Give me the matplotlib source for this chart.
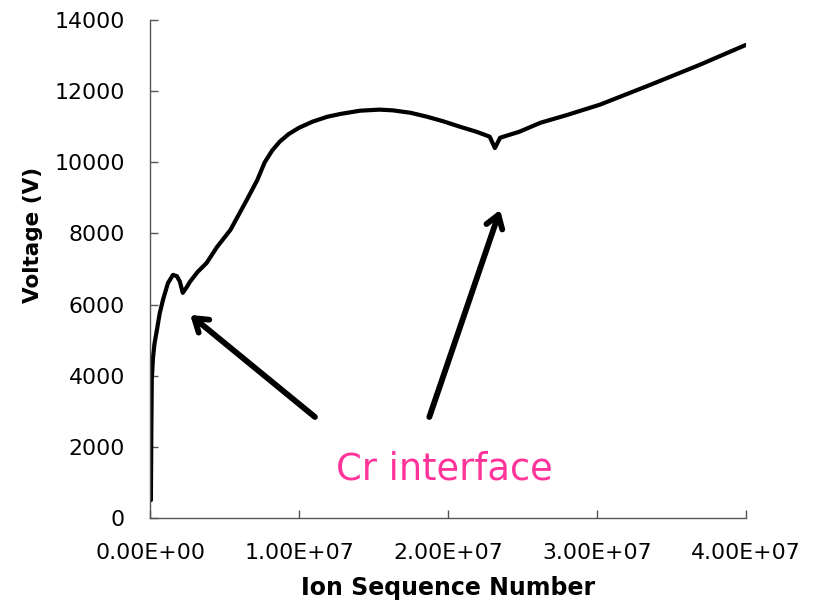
import matplotlib
matplotlib.use("Agg")
import matplotlib.pyplot as plt
from matplotlib.ticker import FuncFormatter

# Values (x in millions of ions)
ion_millions = [0.06, 0.09, 0.12, 0.2, 0.3, 0.47, 0.65, 0.87, 1.2, 1.54, 1.8, 2.0,
                2.2, 2.45, 2.68, 3.2, 3.8, 4.5, 5.4, 6.5, 7.2, 7.7, 8.2, 8.7,
                9.3, 10.0, 10.9, 11.9, 12.8, 14.1, 15.4, 16.3, 17.5, 18.6, 19.7,
                20.8, 21.9, 22.8, 23.15, 23.5, 24.8, 26.2, 28.0, 30.2, 33.6, 36.9, 40.0]
voltage = [500, 2500, 3900, 4500, 4900, 5300, 5750, 6130, 6600, 6835, 6800, 6650,
           6330, 6480, 6640, 6920, 7170, 7620, 8100, 8945, 9500, 10000, 10330, 10577,
           10790, 10970, 11140, 11280, 11360, 11450, 11480, 11460, 11390, 11280, 11150,
           11000, 10860, 10720, 10400, 10690, 10860, 11110, 11330, 11620, 12180, 12740, 13300]

x_ticks = [0, 1e7, 2e7, 3e7, 4e7]
y_ticks = list(range(0, 14001, 2000))

# arrows: (tail, head) in data units
arrows = [((1.107e7, 2840), (0.27e7, 5710)),
          ((1.875e7, 2840), (2.35e7, 8660))]
note = "Cr interface"

fig = plt.figure(figsize=(8.17, 6.02), dpi=100)
ax = fig.add_axes([0.1836, 0.1395, 0.7294, 0.8273])

x = [v * 1e6 for v in ion_millions]
ax.plot(x, voltage, color="black", lw=3.0, solid_capstyle="round", solid_joinstyle="round")

for (tx, ty), (hx, hy) in arrows:
    ax.annotate("", xy=(hx, hy), xytext=(tx, ty),
                arrowprops=dict(arrowstyle="->,head_length=0.45,head_width=0.3",
                                mutation_scale=20, color="black", lw=4.2,
                                capstyle="round", joinstyle="round",
                                shrinkA=0, shrinkB=0))

ax.text(1.973e7, 1070, note, color="#ff3399", fontsize=26.5, ha="center", va="baseline")

ax.set_xlim(0, 4e7)
ax.set_ylim(0, 14000)
ax.set_xticks(x_ticks)
ax.set_yticks(y_ticks)
ax.xaxis.set_major_formatter(FuncFormatter(lambda v, p: "%.2E" % v))
ax.tick_params(direction="in", length=6, width=1, color="#555555", labelsize=15.8, pad=18)
for side in ("top", "right"):
    ax.spines[side].set_visible(False)
for side in ("left", "bottom"):
    ax.spines[side].set_color("#555555")
    ax.spines[side].set_linewidth(1)

ax.set_xlabel("Ion Sequence Number", fontsize=17, fontweight="bold")
ax.set_ylabel("Voltage (V)", fontsize=15.5, fontweight="bold")
ax.xaxis.set_label_coords(0.5, -0.116)
ax.yaxis.set_label_coords(-0.18, 0.568)

fig.savefig("out.png", dpi=100)
